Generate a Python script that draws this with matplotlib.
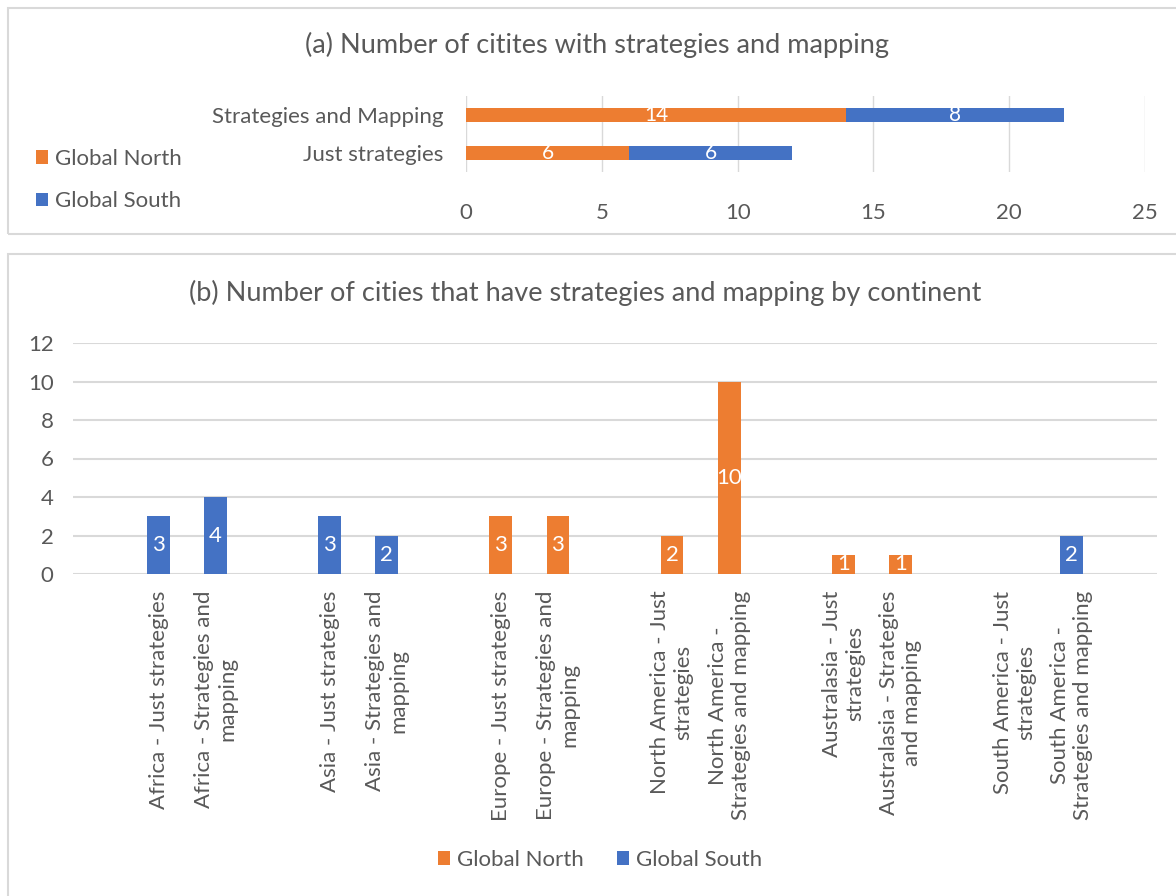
import matplotlib.pyplot as plt
from matplotlib.patches import Rectangle

plt.rcParams['font.family'] = ['Lato', 'DejaVu Sans']

ORANGE = '#ED7D31'
BLUE = '#4472C4'
GREY = '#595959'
GRID = '#D9D9D9'

# (a) data
cat_a = ['Just strategies', 'Strategies and Mapping']
north_a = [6, 14]
south_a = [6, 8]

# (b) data : 빈 카테고리('')로 대륙 사이 간격
cat_b = ['',
         'Africa - Just strategies', 'Africa - Strategies and\nmapping', '',
         'Asia - Just strategies', 'Asia - Strategies and\nmapping', '',
         'Europe - Just strategies', 'Europe - Strategies and\nmapping', '',
         'North America - Just\nstrategies', 'North America -\nStrategies and mapping', '',
         'Australasia - Just\nstrategies', 'Australasia - Strategies\nand mapping', '',
         'South America - Just\nstrategies', 'South America -\nStrategies and mapping']
north_b = [0, 0, 0, 0, 0, 0, 0, 3, 3, 0, 2, 10, 0, 1, 1, 0, 0, 0]
south_b = [0, 3, 4, 0, 3, 2, 0, 0, 0, 0, 0, 0, 0, 0, 0, 0, 0, 2]

W, H = 1176, 896
fig = plt.figure(figsize=(W / 100, H / 100), dpi=100)


def px(x0, y0, x1, y1):
    # 픽셀 좌표 -> figure 좌표
    return [x0 / W, 1 - y1 / H, (x1 - x0) / W, (y1 - y0) / H]


# 패널 테두리
fig.patches.append(Rectangle((8 / W, 1 - 234 / H), 1.0, (234 - 8) / H,
                             transform=fig.transFigure, fill=False,
                             edgecolor=GRID, lw=1.5))
fig.patches.append(Rectangle((8 / W, -0.1), 1.0, 0.1 + (H - 254) / H,
                             transform=fig.transFigure, fill=False,
                             edgecolor=GRID, lw=1.5))

# ---------- (a) ----------
ax1 = fig.add_axes(px(466, 96, 1145, 172))
ya = range(len(cat_a))
ax1.barh(ya, north_a, height=0.37, color=ORANGE, label='Global North')
ax1.barh(ya, south_a, left=north_a, height=0.37, color=BLUE, label='Global South')
for i in ya:
    ax1.text(north_a[i] / 2, i, str(north_a[i]), color='white', ha='center',
             va='center', fontsize=15)
    ax1.text(north_a[i] + south_a[i] / 2, i, str(south_a[i]), color='white',
             ha='center', va='center', fontsize=15)
ax1.set_xlim(0, 25)
ax1.set_ylim(-0.5, 1.5)
ax1.set_yticks(list(ya))
ax1.set_yticklabels(cat_a)
ax1.set_xticks(range(0, 26, 5))
ax1.xaxis.grid(True, color=GRID, lw=1)
ax1.set_axisbelow(True)
for s in ax1.spines.values():
    s.set_visible(False)
ax1.tick_params(length=0, labelsize=16, colors=GREY)
ax1.tick_params(axis='y', pad=16)
ax1.tick_params(axis='x', pad=22)
fig.text(597 / W, 1 - 45 / H, '(a) Number of citites with strategies and mapping',
         ha='center', va='center', fontsize=19.5, color=GREY)
h, l = ax1.get_legend_handles_labels()
fig.legend(h, l, loc='center left', bbox_to_anchor=(16 / W, 1 - 180 / H),
           frameon=False, fontsize=16, labelcolor=GREY, handlelength=0.55,
           handleheight=0.55, handletextpad=0.3, labelspacing=1.0)

# ---------- (b) ----------
ax2 = fig.add_axes(px(73, 343, 1157, 574))
xb = range(len(cat_b))
ax2.bar(xb, north_b, width=0.4, color=ORANGE, label='Global North')
ax2.bar(xb, south_b, width=0.4, bottom=north_b, color=BLUE, label='Global South')
for i in xb:
    for v, b in ((north_b[i], 0), (south_b[i], north_b[i])):
        if v:
            ax2.text(i, b + v / 2, str(v), color='white', ha='center',
                     va='center', fontsize=16)
ax2.set_xlim(-0.5, len(cat_b) + 0.5)
ax2.set_ylim(0, 12)
ax2.set_yticks(range(0, 13, 2))
ax2.set_xticks(list(xb))
ax2.set_xticklabels(cat_b, rotation=90, ha='center', va='top',
                    multialignment='center')
ax2.yaxis.grid(True, color=GRID, lw=1.5)
ax2.set_axisbelow(True)
for s in ax2.spines.values():
    s.set_visible(False)
ax2.tick_params(length=0, labelsize=16, colors=GREY)
ax2.tick_params(axis='x', pad=12, labelsize=16)
ax2.tick_params(axis='y', pad=14)
fig.text(585 / W, 1 - 293 / H,
         '(b) Number of cities that have strategies and mapping by continent',
         ha='center', va='center', fontsize=19.5, color=GREY)
h, l = ax2.get_legend_handles_labels()
fig.legend(h, l, loc='center', bbox_to_anchor=(600 / W, 1 - 860 / H), ncol=2,
           frameon=False, fontsize=16, labelcolor=GREY, handlelength=0.55,
           handleheight=0.55, handletextpad=0.3, columnspacing=1.5)

fig.savefig('out.png', dpi=100, facecolor='white')
